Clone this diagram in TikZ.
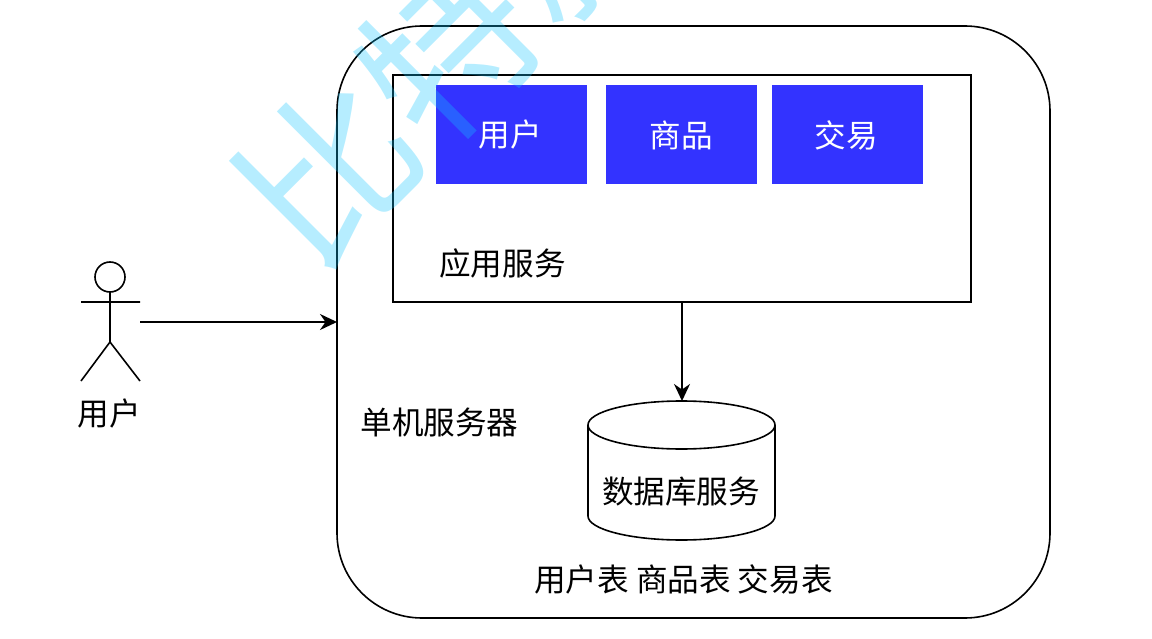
\documentclass[tikz,border=0pt]{standalone}
\usepackage{fontspec}
\setmainfont{Noto Sans CJK SC}
\usetikzlibrary{positioning,arrows.meta}
\definecolor{module}{HTML}{3333FF}
\definecolor{stamp}{HTML}{14C5FF}
\tikzset{
  box/.style={draw,line width=1.6pt,inner sep=0pt,outer sep=0pt},
  module box/.style={fill=module,minimum width=151pt,minimum height=99pt,inner sep=0pt},
  label/.style={inner sep=0pt,font=\fontsize{31.6}{36}\selectfont},
  flow/.style={-{Stealth[length=17pt,width=16pt]},line width=1.8pt},
  figure line/.style={line width=1.6pt}
}
\begin{document}
\begin{tikzpicture}[x=1pt,y=-1pt]
\useasboundingbox (0,0) rectangle (1152,639);
\node[box,rounded corners=85pt,minimum width=713pt,minimum height=592pt] (server) at (693.5,322) {};
\node[box,minimum width=578pt,minimum height=227pt] (app) at (682,188.5) {};
\node[module box] (user) at (511.5,134.5) {}; \node[label,text=white] (userlabel) at (510.5,135) {用户};
\node[module box] (goods) at (681.5,134.5) {}; \node[label,text=white] (goodslabel) at (681,135) {商品};
\node[module box] (trade) at (847.5,134.5) {}; \node[label,text=white] (tradelabel) at (846.5,135) {交易};
\node[label] (applabel) at (502.5,263) {应用服务};
\node[label] (serverlabel) at (439.5,422) {单机服务器};
\node[inner sep=0pt,outer sep=0pt,minimum width=187pt,minimum height=139pt] (db) at (682,470.5) {};
\draw[figure line] (588,425) arc[start angle=180,end angle=0,x radius=93.5pt,y radius=24pt]--(775,516) arc[start angle=0,end angle=-180,x radius=93.5pt,y radius=24pt]--cycle;
\draw[figure line] (588,425) arc[start angle=180,end angle=360,x radius=93.5pt,y radius=24pt];
\node[label] (dblabel) at (681,492) {数据库服务};
\node[label] (tables) at (683.5,579) {用户表 商品表 交易表};
\node[minimum width=60pt,minimum height=119pt,inner sep=0pt,outer sep=0pt] (actor) at (110,322) {};
\node[draw,figure line,circle,minimum size=30pt,inner sep=0pt,outer sep=0pt] (head) at (110,277) {};
\coordinate (hip) at (110,342);
\draw[figure line] (head)--(hip) (81,302)--(140,302) (81,381)--(hip)--(140,381);
\node[label] (actorlabel) at (109.5,414) {用户};
\draw[flow] (actor)--(server);
\draw[flow] (app)--(db);
\begin{scope}
\clip (0,0) rectangle (1152,639);
\node[inner sep=0pt,rotate=45,text=stamp,opacity=.31,font=\fontsize{170}{170}\selectfont] (stamp) at (448,50) {比特就};
\end{scope}
\end{tikzpicture}
\end{document}
